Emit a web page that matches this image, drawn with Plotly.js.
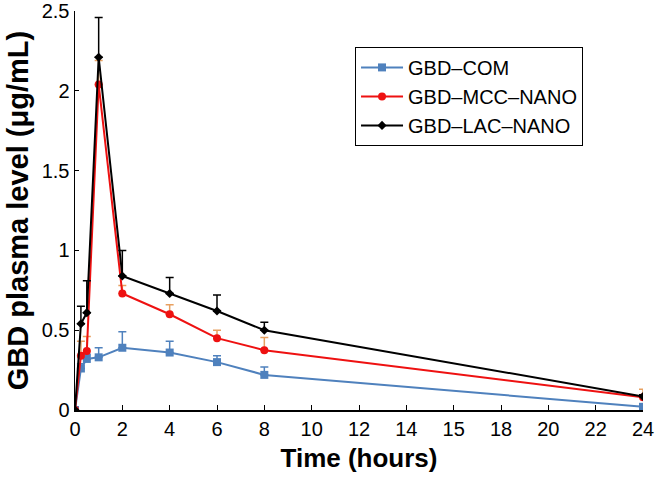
<!DOCTYPE html>
<html>
<head>
<meta charset="utf-8">
<script src="https://cdn.plot.ly/plotly-3.0.1.min.js"></script>
<style>html,body{margin:0;padding:0;background:#fff;}#chart{width:655px;height:478px;}</style>
</head>
<body>
<div id="chart"></div>
<script>
var time = [0, 0.25, 0.5, 1, 2, 4, 6, 8, 24];
var comValues = [0, 0.26, 0.32, 0.33, 0.39, 0.36, 0.30, 0.22, 0.02];
var comErrors = [0, 0.03, 0.03, 0.06, 0.10, 0.07, 0.04, 0.05, 0.01];
var mccValues = [0, 0.34, 0.37, 2.04, 0.73, 0.60, 0.45, 0.375, 0.08];
var mccErrors = [0, 0.09, 0.09, 0.15, 0.05, 0.06, 0.05, 0.08, 0.05];
var lacValues = [0, 0.54, 0.61, 2.21, 0.84, 0.73, 0.62, 0.50, 0.085];
var lacErrors = [0, 0.11, 0.20, 0.25, 0.16, 0.10, 0.10, 0.05, 0.01];
var zeros = time.map(function(){return 0;});
var xTickVals = [0, 2, 4, 6, 8, 10, 12, 14, 16, 18, 20, 22, 24];
var xTickText = ['0', '2', '4', '6', '8', '10', '12', '14', '15', '18', '20', '22', '24'];
var yTickVals = [0, 0.5, 1, 1.5, 2, 2.5];
var yTickText = ['0', '0.5', '1', '1.5', '2', '2.5'];

var fam = 'Liberation Sans, Arial, sans-serif';
var traces = [
  {x: time, y: comValues, name: 'GBD\u2013COM', type: 'scatter', mode: 'lines+markers',
   line: {color: '#4f81bd', width: 2}, marker: {symbol: 'square', size: 8, color: '#4f81bd'},
   error_y: {type: 'data', symmetric: false, array: comErrors, arrayminus: zeros, color: '#4f81bd', thickness: 1.5, width: 4}},
  {x: time, y: mccValues, name: 'GBD\u2013MCC\u2013NANO', type: 'scatter', mode: 'lines+markers',
   line: {color: '#ee1111', width: 2}, marker: {symbol: 'circle', size: 8, color: '#ee1111'},
   error_y: {type: 'data', symmetric: false, array: mccErrors, arrayminus: zeros, color: '#e8a060', thickness: 1.5, width: 4}},
  {x: time, y: lacValues, name: 'GBD\u2013LAC\u2013NANO', type: 'scatter', mode: 'lines+markers',
   line: {color: '#000000', width: 2}, marker: {symbol: 'diamond', size: 7, color: '#000000'},
   error_y: {type: 'data', symmetric: false, array: lacErrors, arrayminus: zeros, color: '#000000', thickness: 1.5, width: 4}}
];

var layout = {
  width: 655, height: 478,
  margin: {l: 75, r: 12, t: 11, b: 68},
  paper_bgcolor: '#fff', plot_bgcolor: '#fff',
  font: {family: fam, color: '#000', size: 20},
  showlegend: true,
  legend: {x: 0.493, y: 0.91, xanchor: 'left', yanchor: 'top', bordercolor: '#000', borderwidth: 1,
           bgcolor: '#fff', font: {size: 20, family: fam}, tracegroupgap: 0, itemwidth: 42},
  xaxis: {range: [0, 24], tickvals: xTickVals, ticktext: xTickText, showgrid: false, zeroline: false,
          showline: true, linecolor: '#000', linewidth: 1.5, ticks: 'inside', ticklen: 5, tickcolor: '#000',
          tickfont: {size: 20, family: fam},
          title: {text: '<b>Time (hours)</b>', font: {size: 26, family: fam}, standoff: 10}},
  yaxis: {range: [0, 2.5], tickvals: yTickVals, ticktext: yTickText, showgrid: false, zeroline: false,
          showline: true, linecolor: '#000', linewidth: 1.5, ticks: 'inside', ticklen: 4, tickcolor: '#000',
          tickfont: {size: 20, family: fam}, ticklabeloverflow: 'allow',
          title: {text: '<b>GBD plasma level (\u03bcg/mL)</b>', font: {size: 29, family: fam}, standoff: 4}}
};

Plotly.newPlot('chart', traces, layout, {displayModeBar: false, staticPlot: true});
</script>
</body>
</html>
